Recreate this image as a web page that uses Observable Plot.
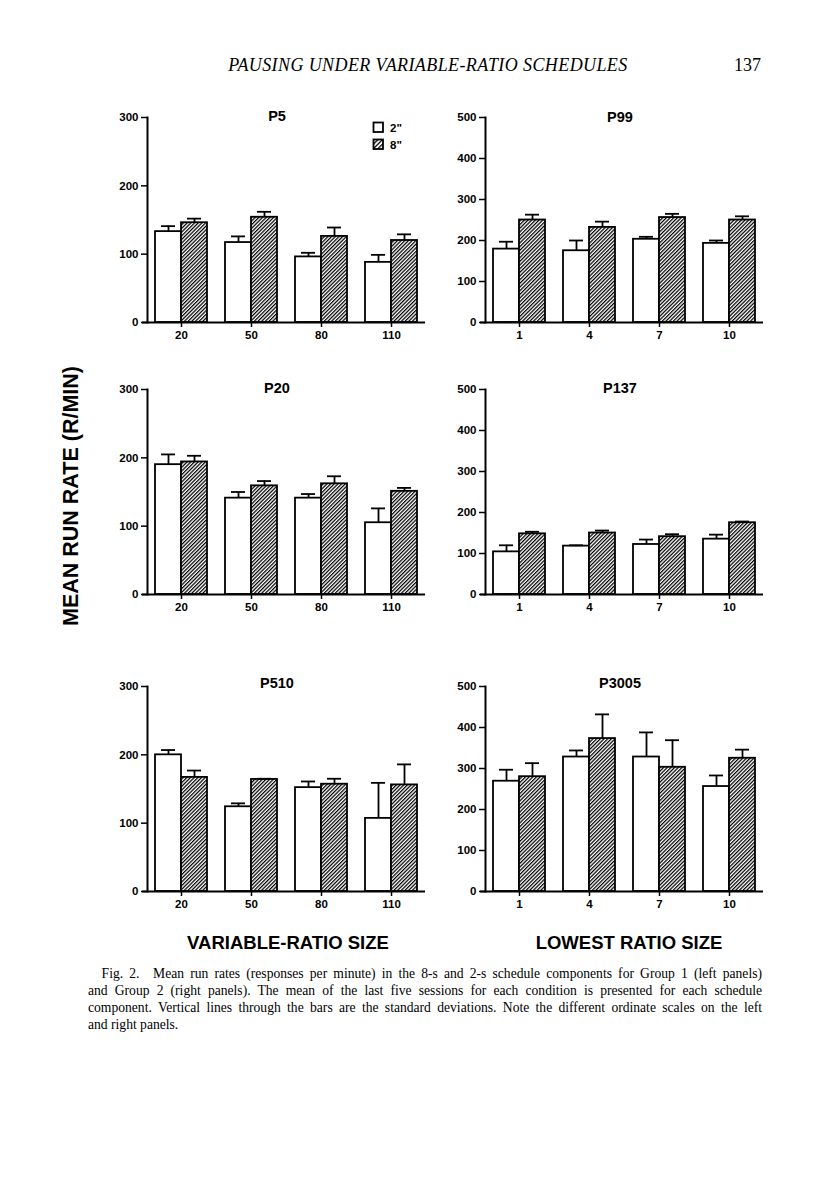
<!DOCTYPE html>
<html><head><meta charset="utf-8">
<script src="https://cdn.jsdelivr.net/npm/d3@7"></script>
<script src="https://cdn.jsdelivr.net/npm/@observablehq/plot@0.6"></script>
<style>
body{margin:0;background:#fff;}
#page{position:relative;width:816px;height:1193px;overflow:hidden;background:#fff;color:#000;font-family:"Liberation Sans",Arial,sans-serif;}
.ptitle{position:absolute;font-weight:bold;font-size:14.5px;transform:translateX(-50%);white-space:nowrap;line-height:1;}
.xtitle{position:absolute;font-weight:bold;font-size:18.5px;transform:translateX(-50%);white-space:nowrap;line-height:1;}
#ylabel{position:absolute;left:72px;top:496px;transform:translate(-50%,-50%) rotate(-90deg);font-weight:bold;font-size:21.5px;white-space:nowrap;line-height:1;}
#header{position:absolute;left:0;top:56px;width:816px;font-family:"Liberation Serif","Times New Roman",serif;font-size:18px;line-height:1;}
#caption{position:absolute;left:88px;top:965px;width:674px;font-family:"Liberation Serif","Times New Roman",serif;font-size:13.6px;line-height:17px;}
#caption div{text-align:justify;text-align-last:justify;white-space:nowrap;}
#caption div.last{text-align-last:left;}
</style></head>
<body><div id="page"></div>
<script>
// ---- data ----
const leftRatios = ["20", "50", "80", "110"];
const rightRatios = ["1", "4", "7", "10"];
const components = ['2"', '8"'];
const panelNames = ["P5", "P99", "P20", "P137", "P510", "P3005"];
const leftTicks = [0, 100, 200, 300];
const rightTicks = [0, 100, 200, 300, 400, 500];

// mean run rates (R/MIN) and standard deviations
const p5Mean2 = [133, 117, 96, 88];
const p5Sd2 = [8, 9, 6, 11];
const p5Mean8 = [146, 154, 126, 120];
const p5Sd8 = [6, 8, 13, 9];

const p99Mean2 = [179, 175, 203, 193];
const p99Sd2 = [18, 25, 6, 7];
const p99Mean8 = [250, 232, 256, 250];
const p99Sd8 = [13, 14, 9, 9];

const p20Mean2 = [190, 141, 141, 105];
const p20Sd2 = [15, 9, 6, 21];
const p20Mean8 = [194, 159, 162, 151];
const p20Sd8 = [9, 7, 11, 5];

const p137Mean2 = [104, 118, 122, 135];
const p137Sd2 = [16, 2, 12, 11];
const p137Mean8 = [148, 150, 141, 175];
const p137Sd8 = [5, 6, 6, 3];

const p510Mean2 = [200, 124, 152, 107];
const p510Sd2 = [7, 5, 9, 52];
const p510Mean8 = [167, 164, 157, 156];
const p510Sd8 = [10, 1, 8, 30];

const p3005Mean2 = [269, 328, 328, 256];
const p3005Sd2 = [28, 16, 60, 27];
const p3005Mean8 = [280, 373, 303, 325];
const p3005Sd8 = [33, 59, 66, 21];

const headerText = "PAUSING UNDER VARIABLE-RATIO SCHEDULES";
const pageNumber = "137";
const yLabel = "MEAN RUN RATE (R/MIN)";
const xTitleLeft = "VARIABLE-RATIO SIZE";
const xTitleRight = "LOWEST RATIO SIZE";
const captionLines = [
  "\u2002\u2002Fig. 2.\u2003Mean run rates (responses per minute) in the 8-s and 2-s schedule components for Group 1 (left panels)",
  "and Group 2 (right panels). The mean of the last five sessions for each condition is presented for each schedule",
  "component. Vertical lines through the bars are the standard deviations. Note the different ordinate scales on the left",
  "and right panels."
];

// ---- layout ----
const page = document.getElementById("page");
const ns = "http://www.w3.org/2000/svg";

const panels = [
  {name: panelNames[0], ratios: leftRatios, ticks: leftTicks, m2: p5Mean2, s2: p5Sd2, m8: p5Mean8, s8: p5Sd8, left: 100, top: 107, tx: 277, ty: 109},
  {name: panelNames[1], ratios: rightRatios, ticks: rightTicks, m2: p99Mean2, s2: p99Sd2, m8: p99Mean8, s8: p99Sd8, left: 438, top: 107, tx: 620, ty: 110},
  {name: panelNames[2], ratios: leftRatios, ticks: leftTicks, m2: p20Mean2, s2: p20Sd2, m8: p20Mean8, s8: p20Sd8, left: 100, top: 379, tx: 277, ty: 381},
  {name: panelNames[3], ratios: rightRatios, ticks: rightTicks, m2: p137Mean2, s2: p137Sd2, m8: p137Mean8, s8: p137Sd8, left: 438, top: 379, tx: 620, ty: 381},
  {name: panelNames[4], ratios: leftRatios, ticks: leftTicks, m2: p510Mean2, s2: p510Sd2, m8: p510Mean8, s8: p510Sd8, left: 100, top: 676, tx: 277, ty: 676},
  {name: panelNames[5], ratios: rightRatios, ticks: rightTicks, m2: p3005Mean2, s2: p3005Sd2, m8: p3005Mean8, s8: p3005Sd8, left: 438, top: 676, tx: 620, ty: 676}
];

const W = 330, H = 245, mL = 47, mR = 5, mT = 10, mB = 30;
const step = 70, band = 52, half = band / 2, capHalf = 7;

function addHatch(svg, id, size) {
  const defs = document.createElementNS(ns, "defs");
  const pat = document.createElementNS(ns, "pattern");
  pat.setAttribute("id", id);
  pat.setAttribute("patternUnits", "userSpaceOnUse");
  pat.setAttribute("width", size);
  pat.setAttribute("height", size);
  pat.setAttribute("patternTransform", "rotate(45)");
  const bg = document.createElementNS(ns, "rect");
  bg.setAttribute("width", size); bg.setAttribute("height", size); bg.setAttribute("fill", "white");
  const ln = document.createElementNS(ns, "line");
  ln.setAttribute("x1", 0.6); ln.setAttribute("y1", 0); ln.setAttribute("x2", 0.6); ln.setAttribute("y2", size);
  ln.setAttribute("stroke", "black"); ln.setAttribute("stroke-width", 1.3);
  pat.appendChild(bg); pat.appendChild(ln); defs.appendChild(pat);
  svg.insertBefore(defs, svg.firstChild);
}

panels.forEach((p, i) => {
  const rows2 = p.ratios.map((r, j) => ({ratio: r, comp: components[0], mean: p.m2[j], sd: p.s2[j]}));
  const rows8 = p.ratios.map((r, j) => ({ratio: r, comp: components[1], mean: p.m8[j], sd: p.s8[j]}));
  const hid = "hatch" + i;
  const chart = Plot.plot({
    width: W, height: H, marginLeft: mL, marginRight: mR, marginTop: mT, marginBottom: mB,
    style: {fontFamily: "'Liberation Sans', Arial, sans-serif", fontSize: "11.5px", fontWeight: "bold", color: "#000", background: "transparent", overflow: "visible"},
    x: {domain: p.ratios, paddingInner: (step - band) / step, paddingOuter: 8 / step, axis: null},
    y: {domain: [0, p.ticks[p.ticks.length - 1]], axis: null},
    marks: [
      Plot.barY(rows2, {x: "ratio", y: "mean", fill: "white", stroke: "black", strokeWidth: 1.8, insetRight: half}),
      Plot.barY(rows8, {x: "ratio", y: "mean", fill: `url(#${hid})`, stroke: "black", strokeWidth: 1.8, insetLeft: half}),
      Plot.ruleX(rows2, {x: "ratio", y1: "mean", y2: d => d.mean + d.sd, dx: -half / 2, strokeWidth: 1.8}),
      Plot.ruleX(rows8, {x: "ratio", y1: "mean", y2: d => d.mean + d.sd, dx: half / 2, strokeWidth: 1.8}),
      Plot.tickY(rows2, {x: "ratio", y: d => d.mean + d.sd, insetLeft: half / 2 - capHalf, insetRight: band - half / 2 - capHalf, strokeWidth: 1.8}),
      Plot.tickY(rows8, {x: "ratio", y: d => d.mean + d.sd, insetLeft: half + half / 2 - capHalf, insetRight: half / 2 - capHalf, strokeWidth: 1.8}),
      Plot.axisX({tickSize: 5, tickPadding: 3, label: null, strokeWidth: 1.5, fontSize: 11.5, fontWeight: "bold"}),
      Plot.axisY({ticks: p.ticks, tickSize: 6, tickPadding: 3, label: null, strokeWidth: 1.5, fontSize: 11.5, fontWeight: "bold"}),
      Plot.ruleY([0], {strokeWidth: 2, insetLeft: -5}),
      Plot.frame({anchor: "left", strokeWidth: 2})
    ]
  });
  addHatch(chart, hid, 2.6);
  chart.style.position = "absolute";
  chart.style.left = p.left + "px";
  chart.style.top = p.top + "px";
  page.appendChild(chart);

  const t = document.createElement("div");
  t.className = "ptitle";
  t.style.left = p.tx + "px";
  t.style.top = p.ty + "px";
  t.textContent = p.name;
  page.appendChild(t);
});

// legend in the P5 panel
const leg = document.createElementNS(ns, "svg");
leg.setAttribute("width", 50); leg.setAttribute("height", 40);
leg.style.position = "absolute"; leg.style.left = "368px"; leg.style.top = "117px";
addHatch(leg, "hatchLeg", 3.2);
components.forEach((c, k) => {
  const r = document.createElementNS(ns, "rect");
  r.setAttribute("x", 5.5); r.setAttribute("y", 5.5 + k * 17); r.setAttribute("width", 9.5); r.setAttribute("height", 9.5);
  r.setAttribute("fill", k === 0 ? "white" : "url(#hatchLeg)"); r.setAttribute("stroke", "black"); r.setAttribute("stroke-width", 1.8);
  leg.appendChild(r);
  const tx = document.createElementNS(ns, "text");
  tx.setAttribute("x", 22); tx.setAttribute("y", 14.5 + k * 17);
  tx.setAttribute("font-family", "'Liberation Sans', Arial, sans-serif"); tx.setAttribute("font-size", 11.5); tx.setAttribute("font-weight", "bold");
  tx.textContent = c;
  leg.appendChild(tx);
});
page.appendChild(leg);

// header
const hdr = document.createElement("div");
hdr.id = "header";
hdr.innerHTML = `<span style="position:absolute;left:428px;transform:translateX(-50%);font-style:italic;white-space:nowrap;letter-spacing:0.4px">${headerText}</span><span style="position:absolute;left:734px;white-space:nowrap">${pageNumber}</span>`;
page.appendChild(hdr);

// axis titles
const yl = document.createElement("div"); yl.id = "ylabel"; yl.textContent = yLabel; page.appendChild(yl);
const xl = document.createElement("div"); xl.className = "xtitle"; xl.style.left = "288px"; xl.style.top = "934px"; xl.textContent = xTitleLeft; page.appendChild(xl);
const xr = document.createElement("div"); xr.className = "xtitle"; xr.style.left = "629px"; xr.style.top = "934px"; xr.textContent = xTitleRight; page.appendChild(xr);

// caption
const cap = document.createElement("div"); cap.id = "caption";
captionLines.forEach((line, k) => {
  const d = document.createElement("div");
  if (k === captionLines.length - 1) d.className = "last";
  d.textContent = line;
  cap.appendChild(d);
});
page.appendChild(cap);
</script>
</body></html>
